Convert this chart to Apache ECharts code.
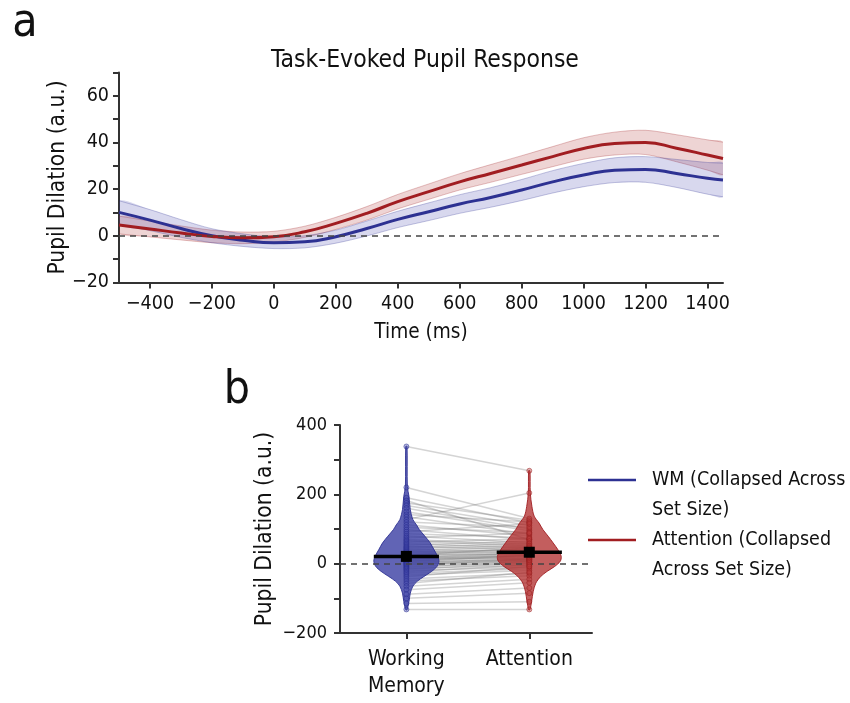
<!DOCTYPE html>
<html><head><meta charset="utf-8">
<script src="https://cdn.jsdelivr.net/npm/echarts@6/dist/echarts.min.js"></script>
<style>html,body{margin:0;padding:0;background:#fff}#c{width:850px;height:703px}</style>
</head><body><div id="c"></div>
<script>
// ---------- Panel a: task-evoked pupil response ----------
const times   = [-500,-400,-300,-200,-100,0,100,200,300,400,500,600,700,800,900,1000,1100,1200,1300,1400,1450];
const wmMean  = [10,6.7,3.1,0,-1.9,-3,-2.6,-0.4,3.1,7,10.3,13.6,16.4,19.6,23.1,26,28.1,28.4,26.7,24.6,23.9];
const wmHalf  = [5,4.5,3.8,3,2.7,2.5,2.6,2.8,3.2,3.5,3.8,4,4.2,4.5,4.8,5,5.3,5.5,6,6.8,7.2];
const attMean = [4.6,2.9,1.2,-0.3,-0.9,-0.4,1.7,5.3,9.6,14.6,18.9,23.1,26.7,30.3,33.9,37.4,39.5,40,37.5,34.6,33.1];
const attHalf = [3.8,3.4,3,2.7,2.5,2.3,2.4,2.6,2.9,3.1,3.3,3.5,3.8,4,4.3,4.6,4.9,5.2,5.8,6.5,7];
const timeTicks = [-400,-200,0,200,400,600,800,1000,1200,1400];

// ---------- Panel b: collapsed across set size ----------
const categories = ['Working\nMemory','Attention'];
const wmVals  = [338,220,190,182,175,168,160,150,142,135,127,120,112,105,98,92,86,80,75,70,66,62,58,54,50,47,44,41,38,35,33,30,28,26,24,22,20,18,16,14,12,10,8,6,4,2,0,-2,-4,-7,-10,-13,-16,-20,-24,-28,-33,-38,-44,-50,-57,-65,-75,-88,-100,-115,-132];
const attVals = [268,130,118,69,125,110,100,95,120,85,204,105,80,90,70,115,75,60,88,55,50,72,45,65,40,58,52,35,48,30,42,38,25,33,45,28,20,30,15,26,22,18,12,24,10,15,8,5,12,0,6,-5,2,-10,-3,-15,-20,-8,-28,-35,-25,-45,-55,-70,-85,-110,-132];
const groupMeans = [21, 33];
const wmViolinY  = [-133,-109,-85,-65,-51,-37,-22,-8,7,21,40,60,79,98,112,127,156,194,223,338];
const wmViolinW  = [0.02,0.08,0.12,0.2,0.33,0.54,0.78,0.94,1.0,0.96,0.85,0.73,0.57,0.4,0.31,0.2,0.12,0.08,0.03,0.02];
const attViolinY = [-133,-109,-80,-56,-37,-22,-8,7,21,40,60,79,98,117,137,165,204,268];
const attViolinW = [0.02,0.07,0.12,0.2,0.35,0.55,0.78,0.95,0.98,0.88,0.73,0.58,0.42,0.3,0.15,0.08,0.03,0.02];

const FONT = "'DejaVu Sans Condensed','DejaVu Sans',sans-serif";
const BLUE = '#2d3192', RED = '#a11d21';
const VIOLIN_HALF = 0.265;
const minus = v => v < 0 ? '\u2212' + Math.abs(v) : String(v);

const chart = echarts.init(document.getElementById('c'), null, {renderer:'canvas'});

function band(mean, half, fill, stroke){
  return {
    type:'custom', xAxisIndex:0, yAxisIndex:0, silent:true, clip:true, z:2, data:[[0,0]],
    renderItem:(params, api)=>{
      const up = times.map((t,i)=>api.coord([t, mean[i]+half[i]]));
      const lo = times.map((t,i)=>api.coord([t, mean[i]-half[i]]));
      return {type:'group', children:[
        {type:'polygon', shape:{points: up.concat(lo.slice().reverse()), smooth:0.3}, style:{fill:fill}},
        {type:'polyline', shape:{points: up, smooth:0.3}, style:{stroke:stroke, fill:null, lineWidth:0.8}},
        {type:'polyline', shape:{points: lo, smooth:0.3}, style:{stroke:stroke, fill:null, lineWidth:0.8}}
      ]};
    }
  };
}

function violin(yArr, wArr, fill, stroke){
  return function(params, api){
    const cx = api.value(0);
    const pts = [];
    for (let i=0;i<yArr.length;i++) pts.push(api.coord([cx + wArr[i]*VIOLIN_HALF, yArr[i]]));
    for (let i=yArr.length-1;i>=0;i--) pts.push(api.coord([cx - wArr[i]*VIOLIN_HALF, yArr[i]]));
    return {type:'polygon', shape:{points:pts, smooth:0.3}, style:{fill:fill, stroke:stroke, lineWidth:1}};
  };
}

const axisLineStyle = {color:'#333', width:2};
const labelStyle = {fontFamily:FONT, color:'#111'};
const zeroLine = {silent:true, symbol:'none', label:{show:false},
                  lineStyle:{type:[6,5], color:'#444', width:1.5}, data:[{yAxis:0}]};

const option = {
  backgroundColor:'#fff',
  animation:false,
  title:{text:'Task-Evoked Pupil Response', left:'center', top:43,
         textStyle:{fontFamily:FONT, fontSize:24.5, fontWeight:'normal', color:'#111'}},
  grid:[
    {left:119, top:72.4, width:604, height:210},
    {left:340, top:425, width:252, height:208}
  ],
  xAxis:[
    {type:'value', gridIndex:0, min:-500, max:1450,
     axisLine:{show:true, onZero:false, lineStyle:axisLineStyle},
     axisTick:{show:true, length:6, customValues:timeTicks, lineStyle:{color:'#333', width:2}},
     axisLabel:{customValues:timeTicks, formatter:minus, fontSize:19.5, margin:12, ...labelStyle},
     splitLine:{show:false},
     name:'Time (ms)', nameLocation:'middle', nameGap:40, nameMoveOverlap:false,
     nameTextStyle:{fontSize:20.6, ...labelStyle}},
    {type:'value', gridIndex:1, min:-0.54, max:1.51,
     axisLine:{show:true, onZero:false, lineStyle:axisLineStyle},
     axisTick:{show:true, length:6, customValues:[0,1], lineStyle:{color:'#333', width:2}},
     axisLabel:{customValues:[0,1], formatter:v=>categories[Math.round(v)], fontSize:21, lineHeight:27, margin:13, ...labelStyle},
     splitLine:{show:false}}
  ],
  yAxis:[
    {type:'value', gridIndex:0, min:-20, max:70, interval:10,
     axisLine:{show:true, onZero:false, lineStyle:axisLineStyle},
     axisTick:{show:true, length:6, lineStyle:{color:'#333', width:2}},
     axisLabel:{formatter:v=> (v % 20 === 0 ? minus(v) : ''), fontSize:19.5, margin:10, ...labelStyle},
     splitLine:{show:false},
     name:'Pupil Dilation (a.u.)', nameLocation:'middle', nameGap:49, nameMoveOverlap:false,
     nameTextStyle:{fontSize:22.6, ...labelStyle}},
    {type:'value', gridIndex:1, min:-200, max:400, interval:100,
     axisLine:{show:true, onZero:false, lineStyle:axisLineStyle},
     axisTick:{show:true, length:6, lineStyle:{color:'#333', width:2}},
     axisLabel:{formatter:v=> (v % 200 === 0 ? minus(v) : ''), fontSize:18, margin:13, ...labelStyle},
     splitLine:{show:false},
     name:'Pupil Dilation (a.u.)', nameLocation:'middle', nameGap:63, nameMoveOverlap:false,
     nameTextStyle:{fontSize:22.6, ...labelStyle}}
  ],
  series:[
    band(attMean, attHalf, 'rgba(170,40,40,0.2)', 'rgba(161,29,33,0.35)'),
    band(wmMean, wmHalf, 'rgba(60,60,170,0.2)', 'rgba(45,49,146,0.35)'),
    {type:'line', name:'WM', xAxisIndex:0, yAxisIndex:0, smooth:true, symbol:'none', silent:true,
     data: times.map((t,i)=>[t, wmMean[i]]), lineStyle:{width:3, color:BLUE}, z:4, markLine:zeroLine},
    {type:'line', name:'Attention', xAxisIndex:0, yAxisIndex:0, smooth:true, symbol:'none', silent:true,
     data: times.map((t,i)=>[t, attMean[i]]), lineStyle:{width:3, color:RED}, z:4},

    // paired subject lines
    {type:'custom', xAxisIndex:1, yAxisIndex:1, silent:true, z:1,
     data: wmVals.map((v,i)=>[v, attVals[i]]),
     renderItem:(params, api)=>{
       const p0 = api.coord([0, api.value(0)]);
       const p1 = api.coord([1, api.value(1)]);
       return {type:'line', shape:{x1:p0[0], y1:p0[1], x2:p1[0], y2:p1[1]},
               style:{stroke:'rgba(100,100,100,0.28)', lineWidth:1.5}};
     }},
    // violins
    {type:'custom', xAxisIndex:1, yAxisIndex:1, silent:true, z:2, data:[[0,0]],
     renderItem: violin(wmViolinY, wmViolinW, 'rgba(52,56,160,0.78)', 'rgba(45,49,146,0.9)')},
    {type:'custom', xAxisIndex:1, yAxisIndex:1, silent:true, z:2, data:[[1,0]],
     renderItem: violin(attViolinY, attViolinW, 'rgba(175,40,40,0.75)', 'rgba(160,29,33,0.9)')},
    // individual points
    {type:'scatter', xAxisIndex:1, yAxisIndex:1, silent:true, z:3, symbolSize:5,
     data: wmVals.map(v=>[0,v]), itemStyle:{color:'rgba(70,75,175,0.5)', borderColor:'rgba(40,44,140,0.8)', borderWidth:0.8}},
    {type:'scatter', xAxisIndex:1, yAxisIndex:1, silent:true, z:6, symbolSize:5,
     data: attVals.map(v=>[1,v]), itemStyle:{color:'rgba(190,60,60,0.5)', borderColor:'rgba(150,30,30,0.8)', borderWidth:0.8},
     markLine:zeroLine},
    // group means
    {type:'custom', xAxisIndex:1, yAxisIndex:1, silent:true, z:7,
     data: groupMeans.map((m,i)=>[i,m]),
     renderItem:(params, api)=>{
       const x = api.value(0), m = api.value(1);
       const a = api.coord([x - VIOLIN_HALF, m]), b = api.coord([x + VIOLIN_HALF, m]), c = api.coord([x, m]);
       return {type:'group', children:[
         {type:'line', shape:{x1:a[0], y1:a[1], x2:b[0], y2:b[1]}, style:{stroke:'#000', lineWidth:3.5}},
         {type:'rect', shape:{x:c[0]-5.5, y:c[1]-5.5, width:11, height:11}, style:{fill:'#000'}}
       ]};
     }}
  ],
  graphic:[
    {type:'text', x:25, y:24, style:{text:'a', font:'46px ' + FONT, fill:'#111', align:'center', verticalAlign:'middle'}},
    {type:'text', x:237, y:391, style:{text:'b', font:'46px ' + FONT, fill:'#111', align:'center', verticalAlign:'middle'}},
    {type:'line', shape:{x1:588, y1:480, x2:636, y2:480}, style:{stroke:BLUE, lineWidth:2.5}},
    {type:'line', shape:{x1:588, y1:540, x2:636, y2:540}, style:{stroke:RED, lineWidth:2.5}},
    {type:'text', x:652, y:465, style:{text:'WM (Collapsed Across\nSet Size)', font:'19.5px ' + FONT, fill:'#111', lineHeight:30, verticalAlign:'top'}},
    {type:'text', x:652, y:525, style:{text:'Attention (Collapsed\nAcross Set Size)', font:'19.5px ' + FONT, fill:'#111', lineHeight:30, verticalAlign:'top'}}
  ]
};
chart.setOption(option);
</script>
</body></html>
